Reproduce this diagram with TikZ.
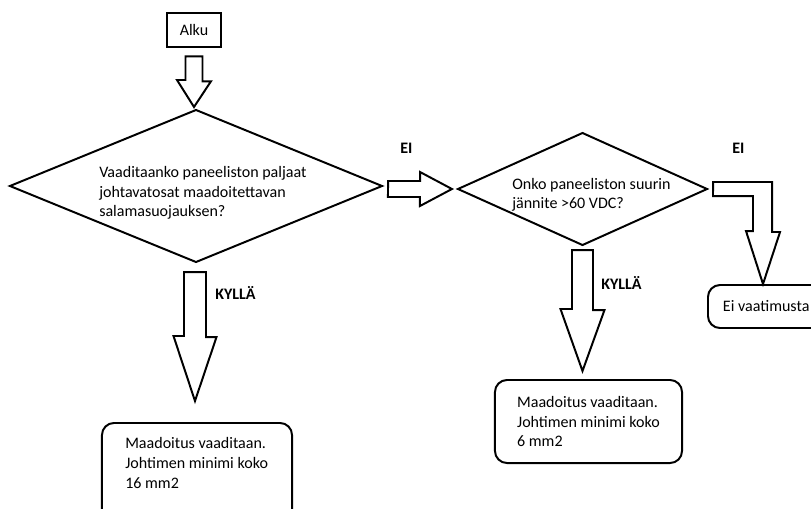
\documentclass[tikz,border=0pt]{standalone}
\usepackage{fontspec}
\setmainfont{Carlito}
\usetikzlibrary{shapes.geometric,calc}
\newcommand{\kaavio}{\fontsize{11.4}{13.9}\selectfont}
\tikzset{
  alkubox/.style={draw,line width=1.8pt,minimum width=1.35cm,minimum height=0.85cm,inner sep=0pt},
  kysy/.style={draw,diamond,line width=1.4pt,inner sep=0pt,outer sep=0pt},   % paatos
  tulos/.style={draw,rounded corners=0.3cm,line width=1.4pt,inner sep=0pt},  % lopputulos
  teksti/.style={align=left,inner sep=0pt},
  blk/.style={draw,line width=1.4pt,fill=white,line join=miter},             % lohkonuoli
  lbl/.style={font=\kaavio\bfseries,inner sep=0pt,anchor=base west}
}

\begin{document}
\begin{tikzpicture}[x=0.025cm,y=-0.025cm,font=\kaavio]
  \useasboundingbox (0,0) rectangle (811,508);
  \clip (0,0) rectangle (811,508);

  \node[alkubox] (alku) at (194,30) {Alku};
  \node[kysy,minimum width=9.3cm,minimum height=3.8cm] (q1) at (196,186) {};
  \node[teksti,anchor=west] (q1txt) at (99,193)
    {Vaaditaanko paneeliston paljaat\\johtavatosat maadoitettavan\\salamasuojauksen?};
  \node[kysy,minimum width=6.225cm,minimum height=2.8cm] (q2) at (582.5,189) {};
  \node[teksti,anchor=west] (q2txt) at (512,195) {Onko paneeliston suurin\\jännite >60 VDC?};

  \node[tulos,minimum width=4.75cm,minimum height=2.925cm] (b1) at (197,481.5) {};
  \node[teksti,anchor=west] (b1txt) at (125,463) {Maadoitus vaaditaan.\\Johtimen minimi koko\\16 mm2};
  \node[tulos,align=left,minimum width=4.675cm,minimum height=2.075cm] (b2) at (588.5,421.5)
    {Maadoitus vaaditaan.\\Johtimen minimi koko\\6 mm2};
  \node[tulos,anchor=west,inner xsep=0.375cm,minimum height=1.075cm] (b3) at (707,306.5) {Ei vaatimusta};

  % lohkonuolet
  \draw[blk] ($(alku.south)+(-8.5,8)$) -- ++(17,0) -- ++(0,25) -- ++(8.5,0)
    -- ($(q1.north)+(-2,-3)$) -- ++(-17,-27) -- ++(8.5,0) -- cycle;
  \draw[blk] ($(q1.south)+(-12,10)$) -- ++(22,0) -- ++(0,65) -- ++(10.5,0)
    -- ($(b1.north)+(-2,-21)$) -- ++(-21.5,-65) -- ++(10.5,0) -- cycle;
  \draw[blk] ($(q1.east)+(6,-5)$) -- ++(32,0) -- ++(0,-9)
    -- ($(q2.west)+(-6,0)$) -- ++(-32,17) -- ++(0,-9) -- ++(-32,0) -- cycle;
  \draw[blk] ($(q2.south)+(-10.5,5)$) -- ++(21,0) -- ++(0,60) -- ++(11.5,0)
    -- ($(b2.north)+(-6,-8)$) -- ++(-22,-62) -- ++(11.5,0) -- cycle;
  \draw[blk] ($(q2.east)+(6,-7)$) -- ++(59,0) -- ++(0,50) -- ++(8,0)
    -- ($(b3.north west)+(56,0)$) -- ++(-17,-53) -- ++(7,0) -- ++(0,-35) -- ++(-40,0) -- cycle;

  \node[lbl] (ei1) at (400,153) {EI};
  \node[lbl] (ei2) at (732,153) {EI};
  \node[lbl] (kylla1) at (215,299) {KYLLÄ};
  \node[lbl] (kylla2) at (601,289) {KYLLÄ};
\end{tikzpicture}
\end{document}
